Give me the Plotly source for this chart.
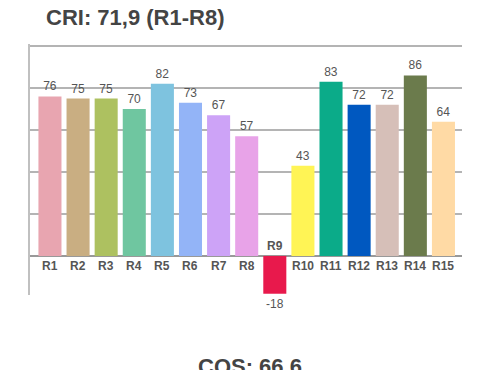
import plotly.graph_objects as go

categories = ["R1", "R2", "R3", "R4", "R5", "R6", "R7", "R8", "R9", "R10", "R11", "R12", "R13", "R14", "R15"]
values = [76, 75, 75, 70, 82, 73, 67, 57, -18, 43, 83, 72, 72, 86, 64]
colors = ["#E8A5B0", "#C9AE82", "#ADC160", "#6FC6A0", "#7EC3DF", "#93B4F7", "#CDA3F7", "#E8A3E8",
          "#E8194C", "#FFF455", "#0BAB89", "#0058C0", "#D6BFB8", "#6B7B4C", "#FFDAA5"]
title_text = "CRI: 71,9 (R1-R8)"
footer_text = "CQS: 66.6"

FONT = "Liberation Sans, Arial, sans-serif"

fig = go.Figure()
fig.add_trace(go.Bar(
    x=categories, y=values,
    marker=dict(color=colors, line=dict(width=0)),
    text=[str(v) for v in values], textposition="outside",
    textfont=dict(size=12, color="#555555", family=FONT),
    cliponaxis=False, width=0.82,
))

annotations = []
for c, v in zip(categories, values):
    if v >= 0:
        annotations.append(dict(x=c, y=0, xref="x", yref="y", text="<b>" + c + "</b>", showarrow=False,
                                yanchor="top", yshift=-1,
                                font=dict(size=12, color="#555555", family=FONT)))
    else:
        annotations.append(dict(x=c, y=0, xref="x", yref="y", text="<b>" + c + "</b>", showarrow=False,
                                yanchor="bottom", yshift=1,
                                font=dict(size=12, color="#555555", family=FONT)))

annotations.append(dict(x=0.033, y=1.1075, xref="paper", yref="paper", text="<b>" + title_text + "</b>",
                        showarrow=False, xanchor="left", yanchor="middle",
                        font=dict(size=22, color="#444444", family=FONT)))
annotations.append(dict(x=0.509, y=-0.283, xref="paper", yref="paper", text="<b>" + footer_text + "</b>",
                        showarrow=False, xanchor="center", yanchor="middle",
                        font=dict(size=22, color="#444444", family=FONT)))

fig.update_layout(
    width=500, height=370,
    margin=dict(l=30, r=38, t=44, b=75),
    paper_bgcolor="white", plot_bgcolor="white",
    showlegend=False,
    annotations=annotations,
    xaxis=dict(range=[-0.71, 14.66], showticklabels=False, showgrid=False, zeroline=False, showline=False),
    yaxis=dict(range=[-18.6, 101], tick0=0, dtick=20, showticklabels=False, showgrid=True,
               gridcolor="#b4b4b4", gridwidth=1.5, zeroline=True, zerolinecolor="#999999", zerolinewidth=1.5,
               showline=True, linecolor="#c0c0c0", linewidth=2, ticks=""),
)

fig.write_html("out.html", config={"displayModeBar": False},
               post_script="document.body.style.margin='0px';")
